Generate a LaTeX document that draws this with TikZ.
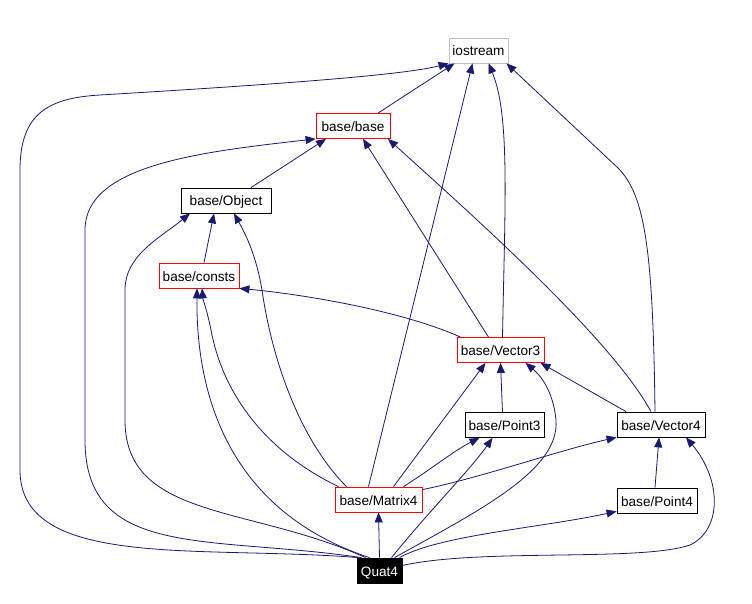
\documentclass[tikz,border=0pt]{standalone}
\usepackage{fontspec}
\setmainfont{Liberation Sans}
\usetikzlibrary{arrows.meta}
\definecolor{edgeblue}{RGB}{25,25,112}
\definecolor{greyborder}{RGB}{191,191,191}
\tikzset{
  box/.style={draw=black, rectangle, minimum height=25pt, inner sep=0pt, fill=white,
    text height=12pt, text depth=1pt,
    line width=0.8pt, font=\fontsize{13.6}{15}\selectfont},
  redbox/.style={box, draw=red},
  dep/.style={draw=edgeblue, line width=0.8pt, -{Triangle[length=10pt,width=8pt]}, fill=none}
}
\begin{document}
\begin{tikzpicture}[x=1pt,y=-1pt]
\useasboundingbox[fill=white] (0,0) rectangle (752,604);
% nodes
\node[box, draw=greyborder, minimum width=59pt] (io) at (478.5,50.5) {iostream};
\node[redbox, minimum width=74pt] (base) at (353,126) {base/base};
\node[box, minimum width=90pt] (obj) at (226,200.5) {base/Object};
\node[redbox, minimum width=80pt] (consts) at (199,275.5) {base/consts};
\node[redbox, minimum width=87pt] (vec3) at (500.5,350) {base/Vector3};
\node[box, minimum width=79pt] (pt3) at (504.5,425) {base/Point3};
\node[box, minimum width=88pt] (vec4) at (661,424.5) {base/Vector4};
\node[redbox, minimum width=87pt] (mat4) at (378.5,499.5) {base/Matrix4};
\node[box, minimum width=80pt] (pt4) at (657,500.5) {base/Point4};
\node[box, fill=black, text=white, minimum width=45pt] (quat) at (379.5,570.5) {Quat4};
% edges
\draw[dep] ([xshift=25pt]base.north) -- ([xshift=-24pt]io.south);
\draw[dep] ([xshift=25pt]obj.north) -- ([xshift=-27pt]base.south);
\draw[dep] ([xshift=-21pt]quat.north) .. controls (200,545) and (20,570) .. (20,470)
  -- (20,170) .. controls (20,112) and (50,98) .. (100,95)
  .. controls (250,86) and (400,76) .. (io.south west);
\draw[dep] ([xshift=-18pt]quat.north) .. controls (210,535) and (85,560) .. (85,440)
  -- (85,230) .. controls (85,165) and (200,152) .. (base.south west);
\draw[dep] ([xshift=-14pt]quat.north) .. controls (250,505) and (125,520) .. (125,420)
  -- (125,290) .. controls (125,255) and (160,238) .. ([xshift=-36pt]obj.south);
\draw[dep] ([xshift=5pt]consts.north) -- ([xshift=-12pt]obj.south);
\draw[dep] ([xshift=-32pt]mat4.north) .. controls (300,440) and (272,360) .. (262,290)
  .. controls (256,255) and (246,235) .. ([xshift=8pt]obj.south);
\draw[dep] ([xshift=-40pt]mat4.north) .. controls (262,450) and (222,390) .. (211,330)
  .. controls (207,310) and (203,300) .. ([xshift=3pt]consts.south);
\draw[dep] ([xshift=-10pt]quat.north) .. controls (232,512) and (196,400) .. ([xshift=-2pt]consts.south);
\draw[dep] ([xshift=-40pt]vec3.north) .. controls (400,310) and (300,294) .. (consts.south east);
\draw[dep] ([xshift=-12pt]vec3.north) -- ([xshift=10pt]base.south);
\draw[dep] ([xshift=2pt]vec3.north) .. controls (505,200) and (510,115) .. ([xshift=10pt]io.south);
\draw[dep] ([xshift=-10pt]mat4.north) -- ([xshift=-6pt]io.south);
\draw[dep] ([xshift=-6pt]vec4.north) .. controls (653,250) and (645,195) .. (618,168)
  -- ([xshift=28pt]io.south);
\draw[dep] ([xshift=-10pt]vec4.north) .. controls (612,340) and (480,222) .. ([xshift=35pt]base.south);
\draw[dep] ([xshift=-35pt]vec4.north) -- ([xshift=40pt]vec3.south);
\draw[dep] ([xshift=-2pt]pt3.north) -- (vec3.south);
\draw[dep] ([xshift=15pt]mat4.north) -- ([xshift=-15pt]vec3.south);
\draw[dep] ([xshift=15pt]quat.north) .. controls (480,510) and (560,470) .. (556,420)
  .. controls (553,390) and (540,375) .. ([xshift=25pt]vec3.south);
\draw[dep] ([xshift=25pt]mat4.north) .. controls (430,470) and (455,450) .. ([xshift=-25pt]pt3.south);
\draw[dep] ([xshift=12pt]quat.north) .. controls (430,510) and (470,470) .. ([xshift=-12pt]pt3.south);
\draw[dep] ([yshift=-3pt]mat4.north east) .. controls (480,478) and (560,450) .. (vec4.south west);
\draw[dep] ([xshift=-2pt]pt4.north) -- ([xshift=-2pt]vec4.south);
\draw[dep] ([yshift=5pt]quat.east) .. controls (480,548) and (640,562) .. (690,545)
  .. controls (722,530) and (722,480) .. ([xshift=25pt]vec4.south);
\draw[dep] ([xshift=20pt]quat.north) .. controls (440,535) and (540,528) .. ([yshift=2pt]pt4.south west);
\draw[dep] (quat.north) -- (mat4.south);
\end{tikzpicture}
\end{document}
